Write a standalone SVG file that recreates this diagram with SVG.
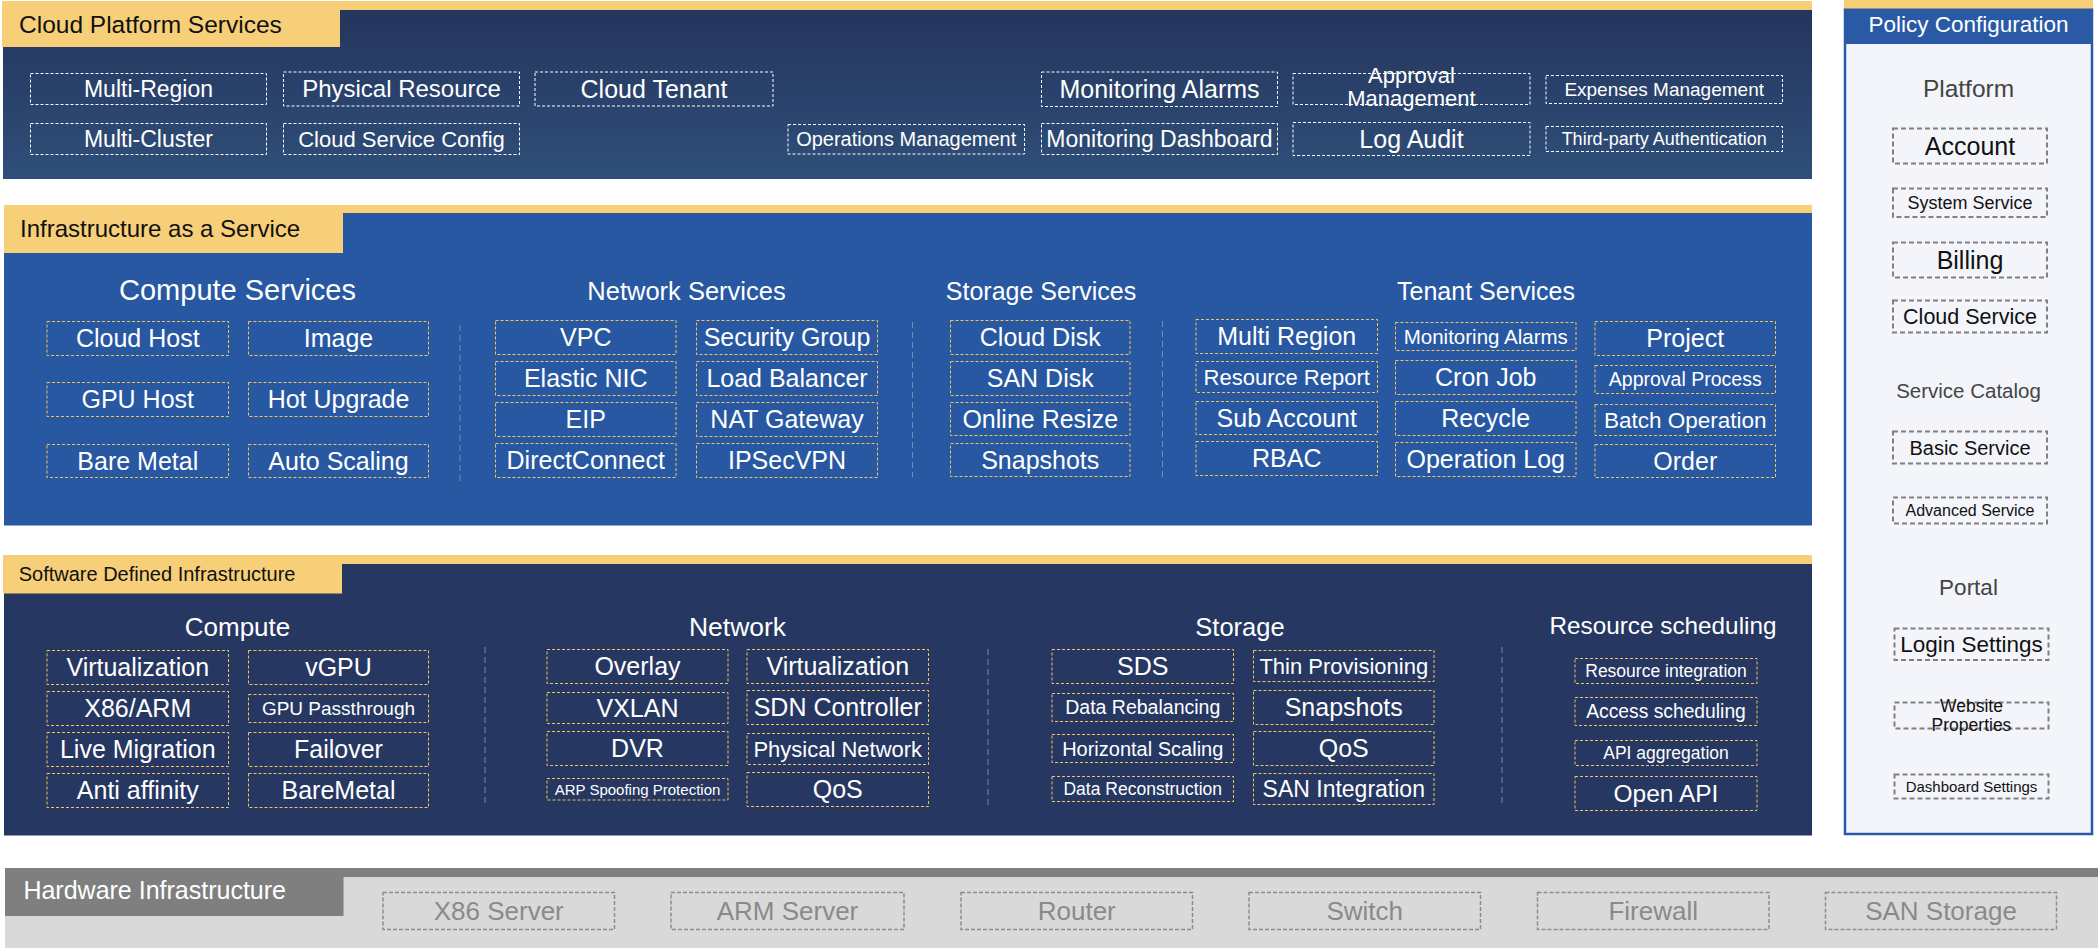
<svg xmlns="http://www.w3.org/2000/svg" width="2100" height="948" viewBox="0 0 2100 948">
<defs>
<linearGradient id="gTop" x1="0" y1="0" x2="0" y2="1">
<stop offset="0" stop-color="#25355d"/>
<stop offset="1" stop-color="#2e4f79"/>
</linearGradient>
<style>
text{font-family:"Liberation Sans",Arial,sans-serif}
.tw{fill:none;stroke:#ffffff;stroke-width:1;stroke-dasharray:3 2}
.ty{fill:none;stroke:#f2c45c;stroke-width:1;stroke-dasharray:3 2}
.tp{fill:none;stroke:#808080;stroke-width:2;stroke-dasharray:5 3}
.th{fill:none;stroke:#8c8c8c;stroke-width:1.5;stroke-dasharray:4 2}
.sep{stroke:#8d9cc0;stroke-width:1;stroke-dasharray:6 4;opacity:0.8}
.w{fill:#ffffff;text-anchor:middle}
.k{fill:#111111;text-anchor:middle}
.h{fill:#444444;text-anchor:middle}
.g{fill:#8a8a8a;text-anchor:middle}
.yel{fill:#f7cf78}
</style>
</defs>
<rect width="2100" height="948" fill="#ffffff"/>

<!-- Cloud Platform Services panel -->
<g id="panel-cloud-platform">
<rect x="3" y="10" width="1809" height="169" fill="url(#gTop)"/>
<rect class="yel" x="2" y="1" width="1810" height="9"/>
<rect class="yel" x="2" y="1" width="338" height="46"/>
<text x="19" y="32.5" font-size="24.5" fill="#111">Cloud Platform Services</text>
</g>
<g id="cp-multi-region"><rect class="tw" x="30.5" y="73.5" width="236" height="31"/><text class="w" x="148.5" y="97" font-size="23">Multi-Region</text></g>
<g id="cp-physical-resource"><rect class="tw" x="283.5" y="72" width="236" height="34"/><text class="w" x="401.5" y="97.4" font-size="24">Physical Resource</text></g>
<g id="cp-cloud-tenant"><rect class="tw" x="535" y="72" width="238" height="34"/><text class="w" x="654" y="97.8" font-size="25">Cloud Tenant</text></g>
<g id="cp-multi-cluster"><rect class="tw" x="30.5" y="123.5" width="236" height="31"/><text class="w" x="148.5" y="147" font-size="23">Multi-Cluster</text></g>
<g id="cp-cloud-service-config"><rect class="tw" x="283.5" y="123.5" width="236" height="31"/><text class="w" x="401.5" y="146.7" font-size="22">Cloud Service Config</text></g>
<g id="cp-operations-management"><rect class="tw" x="788" y="124.5" width="236.5" height="29.5"/><text class="w" x="906.2" y="146.2" font-size="20">Operations Management</text></g>
<g id="cp-monitoring-alarms"><rect class="tw" x="1041.5" y="72" width="236" height="34.5"/><text class="w" x="1159.5" y="98" font-size="25">Monitoring Alarms</text></g>
<g id="cp-monitoring-dashboard"><rect class="tw" x="1041.5" y="123.5" width="236" height="31"/><text class="w" x="1159.5" y="147" font-size="23">Monitoring Dashboard</text></g>
<g id="cp-approval-management"><rect class="tw" x="1293" y="73.5" width="237" height="31"/><text class="w" x="1411.5" y="83" font-size="22">Approval</text><text class="w" x="1411.5" y="106" font-size="22">Management</text></g>
<g id="cp-log-audit"><rect class="tw" x="1293" y="122.5" width="237" height="33"/><text class="w" x="1411.5" y="147.7" font-size="25">Log Audit</text></g>
<g id="cp-expenses-management"><rect class="tw" x="1546" y="75.5" width="236.5" height="28"/><text class="w" x="1664.2" y="96.2" font-size="19">Expenses Management</text></g>
<g id="cp-third-party-auth"><rect class="tw" x="1546" y="126.5" width="236.5" height="25"/><text class="w" x="1664.2" y="145.3" font-size="18">Third-party Authentication</text></g>

<!-- IaaS panel -->
<g id="panel-iaas">
<rect x="4" y="212.5" width="1808" height="313" fill="#2858a2"/>
<rect class="yel" x="4" y="205" width="1808" height="8"/>
<rect class="yel" x="4" y="205" width="339" height="48"/>
<text x="20" y="237.3" font-size="24" fill="#111">Infrastructure as a Service</text>
<text class="w" x="237.5" y="300" font-size="29">Compute Services</text>
<text class="w" x="686.5" y="300" font-size="25.5">Network Services</text>
<text class="w" x="1041" y="300" font-size="25">Storage Services</text>
<text class="w" x="1486" y="300" font-size="25">Tenant Services</text>
</g>
<g id="ia-cloud-host"><rect class="ty" x="47" y="321.5" width="181.5" height="34"/><text class="w" x="137.75" y="347.3" font-size="25">Cloud Host</text></g>
<g id="ia-image"><rect class="ty" x="248.5" y="321.5" width="180" height="34"/><text class="w" x="338.5" y="347.3" font-size="25">Image</text></g>
<g id="ia-gpu-host"><rect class="ty" x="47" y="382.5" width="181.5" height="34"/><text class="w" x="137.75" y="408.3" font-size="25">GPU Host</text></g>
<g id="ia-hot-upgrade"><rect class="ty" x="248.5" y="382.5" width="180" height="34"/><text class="w" x="338.5" y="408.3" font-size="25">Hot Upgrade</text></g>
<g id="ia-bare-metal"><rect class="ty" x="47" y="444.5" width="181.5" height="33"/><text class="w" x="137.75" y="469.8" font-size="25">Bare Metal</text></g>
<g id="ia-auto-scaling"><rect class="ty" x="248.5" y="444.5" width="180" height="33"/><text class="w" x="338.5" y="469.8" font-size="25">Auto Scaling</text></g>

<g id="ia-vpc"><rect class="ty" x="495.5" y="320.5" width="180.5" height="34"/><text class="w" x="585.75" y="346.3" font-size="25">VPC</text></g>
<g id="ia-elastic-nic"><rect class="ty" x="495.5" y="361.5" width="180.5" height="34"/><text class="w" x="585.75" y="387.3" font-size="25">Elastic NIC</text></g>
<g id="ia-eip"><rect class="ty" x="495.5" y="402.5" width="180.5" height="34"/><text class="w" x="585.75" y="428.3" font-size="25">EIP</text></g>
<g id="ia-directconnect"><rect class="ty" x="495.5" y="443.5" width="180.5" height="34"/><text class="w" x="585.75" y="469.3" font-size="25">DirectConnect</text></g>
<g id="ia-security-group"><rect class="ty" x="696.5" y="320.5" width="181" height="34"/><text class="w" x="787" y="346.3" font-size="25">Security Group</text></g>
<g id="ia-load-balancer"><rect class="ty" x="696.5" y="361.5" width="181" height="34"/><text class="w" x="787" y="387.3" font-size="25">Load Balancer</text></g>
<g id="ia-nat-gateway"><rect class="ty" x="696.5" y="402.5" width="181" height="34"/><text class="w" x="787" y="428.3" font-size="25">NAT Gateway</text></g>
<g id="ia-ipsecvpn"><rect class="ty" x="696.5" y="443.5" width="181" height="34"/><text class="w" x="787" y="469.3" font-size="25">IPSecVPN</text></g>

<g id="ia-cloud-disk"><rect class="ty" x="950.5" y="320.5" width="179.5" height="34"/><text class="w" x="1040.25" y="346.3" font-size="25">Cloud Disk</text></g>
<g id="ia-san-disk"><rect class="ty" x="950.5" y="361.5" width="179.5" height="34"/><text class="w" x="1040.25" y="387.3" font-size="25">SAN Disk</text></g>
<g id="ia-online-resize"><rect class="ty" x="950.5" y="402.5" width="179.5" height="33"/><text class="w" x="1040.25" y="427.8" font-size="25">Online Resize</text></g>
<g id="ia-snapshots"><rect class="ty" x="950.5" y="443.5" width="179.5" height="33"/><text class="w" x="1040.25" y="468.8" font-size="25">Snapshots</text></g>

<g id="ia-multi-region"><rect class="ty" x="1196" y="319.5" width="181.5" height="34"/><text class="w" x="1286.75" y="345.3" font-size="25">Multi Region</text></g>
<g id="ia-resource-report"><rect class="ty" x="1196" y="361.5" width="181.5" height="31"/><text class="w" x="1286.75" y="384.7" font-size="22">Resource Report</text></g>
<g id="ia-sub-account"><rect class="ty" x="1196" y="401.5" width="181.5" height="33"/><text class="w" x="1286.75" y="426.8" font-size="25">Sub Account</text></g>
<g id="ia-rbac"><rect class="ty" x="1196" y="441.5" width="181.5" height="34"/><text class="w" x="1286.75" y="467.3" font-size="25">RBAC</text></g>
<g id="ia-monitoring-alarms"><rect class="ty" x="1395.5" y="322.5" width="180.5" height="28"/><text class="w" x="1485.75" y="343.7" font-size="20.5">Monitoring Alarms</text></g>
<g id="ia-cron-job"><rect class="ty" x="1395.5" y="360.5" width="180.5" height="34"/><text class="w" x="1485.75" y="386.3" font-size="25">Cron Job</text></g>
<g id="ia-recycle"><rect class="ty" x="1395.5" y="401.5" width="180.5" height="34"/><text class="w" x="1485.75" y="427.3" font-size="25">Recycle</text></g>
<g id="ia-operation-log"><rect class="ty" x="1395.5" y="442.5" width="180.5" height="34"/><text class="w" x="1485.75" y="468.3" font-size="25">Operation Log</text></g>
<g id="ia-project"><rect class="ty" x="1595" y="321.5" width="180.5" height="34"/><text class="w" x="1685.25" y="347.3" font-size="25">Project</text></g>
<g id="ia-approval-process"><rect class="ty" x="1595" y="365.5" width="180.5" height="28"/><text class="w" x="1685.25" y="386.3" font-size="19.5">Approval Process</text></g>
<g id="ia-batch-operation"><rect class="ty" x="1595" y="404.5" width="180.5" height="31"/><text class="w" x="1685.25" y="427.9" font-size="22.5">Batch Operation</text></g>
<g id="ia-order"><rect class="ty" x="1595" y="444.5" width="180.5" height="33"/><text class="w" x="1685.25" y="469.8" font-size="25">Order</text></g>

<!-- SDI panel -->
<g id="panel-sdi">
<rect x="4" y="563.5" width="1808" height="272" fill="#263761"/>
<rect class="yel" x="3" y="555" width="1809" height="9"/>
<rect class="yel" x="3" y="555" width="339" height="38.5"/>
<text x="18.7" y="580.7" font-size="20" fill="#111">Software Defined Infrastructure</text>
<text class="w" x="237.5" y="635.5" font-size="26">Compute</text>
<text class="w" x="737.5" y="635.5" font-size="26.5">Network</text>
<text class="w" x="1240" y="635.5" font-size="25.5">Storage</text>
<text class="w" x="1663" y="634" font-size="24.3">Resource scheduling</text>
</g>
<g id="sd-virtualization"><rect class="ty" x="47" y="650.5" width="181.5" height="34"/><text class="w" x="137.75" y="676.3" font-size="25">Virtualization</text></g>
<g id="sd-vgpu"><rect class="ty" x="248.5" y="650.5" width="180" height="34"/><text class="w" x="338.5" y="676.3" font-size="25">vGPU</text></g>
<g id="sd-x86-arm"><rect class="ty" x="47" y="691.5" width="181.5" height="34"/><text class="w" x="137.75" y="717.3" font-size="25">X86/ARM</text></g>
<g id="sd-gpu-passthrough"><rect class="ty" x="248.5" y="694.5" width="180" height="28"/><text class="w" x="338.5" y="715.2" font-size="19">GPU Passthrough</text></g>
<g id="sd-live-migration"><rect class="ty" x="47" y="732.5" width="181.5" height="34"/><text class="w" x="137.75" y="758.3" font-size="25">Live Migration</text></g>
<g id="sd-failover"><rect class="ty" x="248.5" y="732.5" width="180" height="34"/><text class="w" x="338.5" y="758.3" font-size="25">Failover</text></g>
<g id="sd-anti-affinity"><rect class="ty" x="47" y="773.5" width="181.5" height="34"/><text class="w" x="137.75" y="799.3" font-size="25">Anti affinity</text></g>
<g id="sd-baremetal"><rect class="ty" x="248.5" y="773.5" width="180" height="34"/><text class="w" x="338.5" y="799.3" font-size="25">BareMetal</text></g>

<g id="sd-overlay"><rect class="ty" x="547" y="649.5" width="181" height="34"/><text class="w" x="637.5" y="675.3" font-size="25">Overlay</text></g>
<g id="sd-vxlan"><rect class="ty" x="547" y="692.5" width="181" height="31"/><text class="w" x="637.5" y="716.8" font-size="25">VXLAN</text></g>
<g id="sd-dvr"><rect class="ty" x="547" y="731.5" width="181" height="34"/><text class="w" x="637.5" y="757.3" font-size="25">DVR</text></g>
<g id="sd-arp-spoofing"><rect class="ty" x="547" y="778.5" width="181" height="21.5"/><text class="w" x="637.5" y="794.6" font-size="15">ARP Spoofing Protection</text></g>
<g id="sd-net-virtualization"><rect class="ty" x="747" y="649.5" width="181.5" height="34"/><text class="w" x="837.75" y="675.3" font-size="25">Virtualization</text></g>
<g id="sd-sdn-controller"><rect class="ty" x="747" y="690.5" width="181.5" height="34"/><text class="w" x="837.75" y="716.3" font-size="25">SDN Controller</text></g>
<g id="sd-physical-network"><rect class="ty" x="747" y="733.5" width="181.5" height="31"/><text class="w" x="837.75" y="756.7" font-size="22">Physical Network</text></g>
<g id="sd-net-qos"><rect class="ty" x="747" y="772.5" width="181.5" height="34"/><text class="w" x="837.75" y="798.3" font-size="25">QoS</text></g>

<g id="sd-sds"><rect class="ty" x="1052" y="649.5" width="181.5" height="34"/><text class="w" x="1142.75" y="675.3" font-size="25">SDS</text></g>
<g id="sd-data-rebalancing"><rect class="ty" x="1052" y="693.5" width="181.5" height="28"/><text class="w" x="1142.75" y="714.3" font-size="19.5">Data Rebalancing</text></g>
<g id="sd-horizontal-scaling"><rect class="ty" x="1052" y="734.5" width="181.5" height="28"/><text class="w" x="1142.75" y="755.5" font-size="20">Horizontal Scaling</text></g>
<g id="sd-data-reconstruction"><rect class="ty" x="1052" y="776.5" width="181.5" height="25"/><text class="w" x="1142.75" y="795.1" font-size="17.5">Data Reconstruction</text></g>
<g id="sd-thin-provisioning"><rect class="ty" x="1253.5" y="650.5" width="180.5" height="31"/><text class="w" x="1343.75" y="673.7" font-size="22">Thin Provisioning</text></g>
<g id="sd-snapshots"><rect class="ty" x="1253.5" y="690.5" width="180.5" height="34"/><text class="w" x="1343.75" y="716.3" font-size="25">Snapshots</text></g>
<g id="sd-storage-qos"><rect class="ty" x="1253.5" y="731.5" width="180.5" height="34"/><text class="w" x="1343.75" y="757.3" font-size="25">QoS</text></g>
<g id="sd-san-integration"><rect class="ty" x="1253.5" y="773.5" width="180.5" height="31"/><text class="w" x="1343.75" y="797" font-size="23">SAN Integration</text></g>

<g id="sd-resource-integration"><rect class="ty" x="1575" y="658.5" width="182" height="25"/><text class="w" x="1666" y="677.1" font-size="17.5">Resource integration</text></g>
<g id="sd-access-scheduling"><rect class="ty" x="1575" y="697.5" width="182" height="28"/><text class="w" x="1666" y="718.3" font-size="19.3">Access scheduling</text></g>
<g id="sd-api-aggregation"><rect class="ty" x="1575" y="740.5" width="182" height="25"/><text class="w" x="1666" y="759.1" font-size="17.5">API aggregation</text></g>
<g id="sd-open-api"><rect class="ty" x="1575" y="776.5" width="182" height="34"/><text class="w" x="1666" y="802.1" font-size="24.5">Open API</text></g>

<!-- Policy Configuration panel -->
<g id="panel-policy">
<rect x="1845" y="9" width="247" height="825" fill="#f3f5fa" stroke="#2a5aa6" stroke-width="2.5"/>
<rect x="1844" y="8" width="249" height="36" fill="#2a5aa6"/>
<rect class="yel" x="1844" y="0" width="249" height="8.5"/>
<text class="w" x="1968.5" y="31.7" font-size="22.5">Policy Configuration</text>
<text class="h" x="1968.5" y="97" font-size="24.5">Platform</text>
<text class="h" x="1968.5" y="398" font-size="20.5">Service Catalog</text>
<text class="h" x="1968.5" y="595" font-size="22.5">Portal</text>
</g>
<g id="pc-account"><rect class="tp" x="1893" y="128.5" width="154" height="35"/><text class="k" x="1970" y="154.7" font-size="25">Account</text></g>
<g id="pc-system-service"><rect class="tp" x="1893" y="188.5" width="154" height="28.5"/><text class="k" x="1970" y="209" font-size="18">System Service</text></g>
<g id="pc-billing"><rect class="tp" x="1893" y="242.5" width="154" height="35"/><text class="k" x="1970" y="268.7" font-size="25">Billing</text></g>
<g id="pc-cloud-service"><rect class="tp" x="1893" y="300.5" width="154" height="32"/><text class="k" x="1970" y="324" font-size="21.5">Cloud Service</text></g>
<g id="pc-basic-service"><rect class="tp" x="1893" y="431.5" width="154" height="32"/><text class="k" x="1970" y="454.5" font-size="20">Basic Service</text></g>
<g id="pc-advanced-service"><rect class="tp" x="1893" y="497.5" width="154" height="26"/><text class="k" x="1970" y="516.1" font-size="16">Advanced Service</text></g>
<g id="pc-login-settings"><rect class="tp" x="1894.5" y="628.5" width="154" height="31.5"/><text class="k" x="1971.5" y="652.1" font-size="22.5">Login Settings</text></g>
<g id="pc-website-properties"><rect class="tp" x="1894.5" y="702.5" width="154" height="26"/><text class="k" x="1971.5" y="712" font-size="17.5">Website</text><text class="k" x="1971.5" y="731" font-size="17.5">Properties</text></g>
<g id="pc-dashboard-settings"><rect class="tp" x="1894.5" y="774.5" width="154" height="24"/><text class="k" x="1971.5" y="791.8" font-size="15">Dashboard Settings</text></g>

<!-- Hardware Infrastructure -->
<g id="panel-hardware">
<rect x="5" y="876.5" width="2093" height="72" fill="#d9d9d9"/>
<rect x="5" y="868" width="2093" height="9" fill="#7f7f7f"/>
<rect x="5" y="868" width="338.5" height="48" fill="#7f7f7f"/>
<text x="23.4" y="899.3" font-size="25" fill="#ffffff">Hardware Infrastructure</text>
</g>
<g id="hw-x86-server"><rect class="th" x="383" y="892.5" width="231.5" height="37"/><text class="g" x="498.75" y="919.5" font-size="26">X86 Server</text></g>
<g id="hw-arm-server"><rect class="th" x="671" y="892.5" width="233" height="37"/><text class="g" x="787.5" y="919.5" font-size="26">ARM Server</text></g>
<g id="hw-router"><rect class="th" x="961" y="892.5" width="231.5" height="37"/><text class="g" x="1076.75" y="919.5" font-size="26">Router</text></g>
<g id="hw-switch"><rect class="th" x="1249" y="892.5" width="231.5" height="37"/><text class="g" x="1364.75" y="919.5" font-size="26">Switch</text></g>
<g id="hw-firewall"><rect class="th" x="1537.5" y="892.5" width="231.5" height="37"/><text class="g" x="1653.25" y="919.5" font-size="26">Firewall</text></g>
<g id="hw-san-storage"><rect class="th" x="1825.5" y="892.5" width="231" height="37"/><text class="g" x="1941" y="919.5" font-size="26">SAN Storage</text></g>

<!-- dividers (no connectors in this diagram) -->
<g id="connectors">
<line class="sep" x1="460" y1="325" x2="460" y2="483"/>
<line class="sep" x1="912.5" y1="322" x2="912.5" y2="477"/>
<line class="sep" x1="1162.5" y1="321" x2="1162.5" y2="477"/>
<line class="sep" x1="485" y1="647" x2="485" y2="804"/>
<line class="sep" x1="988" y1="649" x2="988" y2="806"/>
<line class="sep" x1="1502" y1="647" x2="1502" y2="803"/>
</g>
</svg>
